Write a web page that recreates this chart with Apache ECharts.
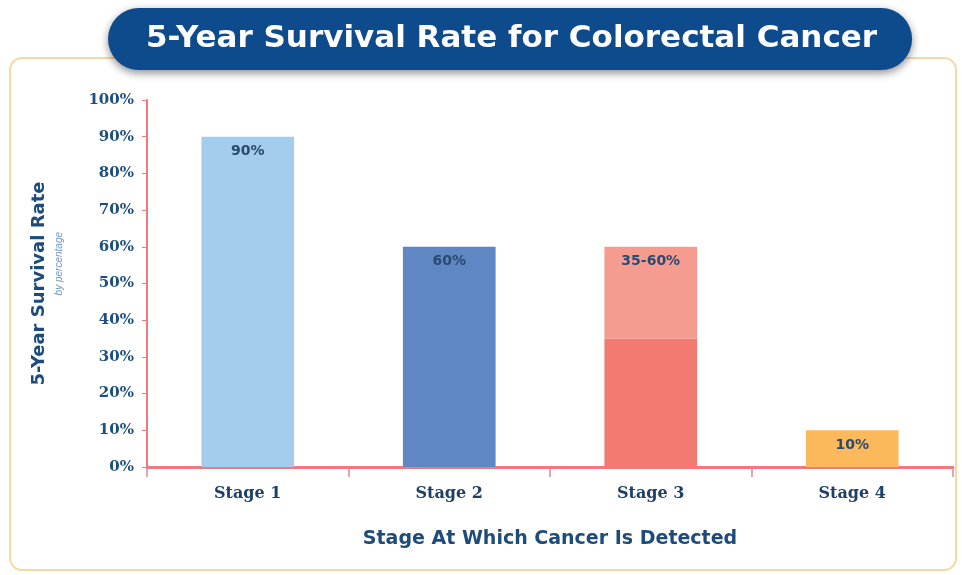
<!DOCTYPE html>
<html>
<head>
<meta charset="utf-8">
<script src="https://cdn.jsdelivr.net/npm/echarts@6/dist/echarts.min.js"></script>
<style>
  html, body { margin: 0; padding: 0; background: #fff; }
  #main { width: 962px; height: 575px; }
</style>
</head>
<body>
<div id="main"></div>
<script>
"use strict";
var stages = ['Stage 1', 'Stage 2', 'Stage 3', 'Stage 4'];
var lowRate = [90, 60, 35, 10];   // lower end of range
var highRate = [90, 60, 60, 10];  // upper end of range
var rateLabels = ['90%', '60%', '35-60%', '10%'];
var yTicks = [0, 10, 20, 30, 40, 50, 60, 70, 80, 90, 100];

var lowColors = ['#a3ccee', '#5e87c4', '#f27a70', '#fbb95c'];
var highColors = ['#a3ccee', '#5e87c4', '#f59b8f', '#fbb95c'];

var chartDom = document.getElementById('main');
var myChart = echarts.init(chartDom);

var labelStyle = {
    show: true,
    position: 'insideTop',
    distance: 8,
    fontFamily: 'DejaVu Sans',
    fontWeight: 'bold',
    fontSize: 14,
    color: '#2b4a72'
};

var baseData = lowRate.map(function (v, i) {
    var ranged = highRate[i] > v;
    return {
        value: v,
        itemStyle: { color: lowColors[i] },
        label: ranged ? { show: false } : Object.assign({}, labelStyle, { formatter: rateLabels[i] })
    };
});
var topData = highRate.map(function (v, i) {
    var ranged = v > lowRate[i];
    return {
        value: v - lowRate[i],
        itemStyle: { color: highColors[i] },
        label: ranged ? Object.assign({}, labelStyle, { formatter: rateLabels[i] }) : { show: false }
    };
});

var option = {
    backgroundColor: '#ffffff',
    animation: false,
    title: {
        text: '5-Year Survival Rate for Colorectal Cancer',
        left: 108,
        top: 8,
        backgroundColor: '#0e4b8c',
        borderRadius: 31,
        padding: [12, 35, 12, 38],
        shadowColor: 'rgba(0,0,0,0.45)',
        shadowBlur: 8,
        shadowOffsetY: 3,
        textStyle: {
            fontFamily: 'DejaVu Sans',
            fontWeight: 'bold',
            fontSize: 31,
            lineHeight: 38,
            color: '#ffffff'
        }
    },
    graphic: [
        {
            type: 'rect',
            z: -10,
            shape: { x: 10, y: 58, width: 946, height: 512, r: 12 },
            style: { fill: '#ffffff', stroke: '#f4d9a2', lineWidth: 2 }
        },
        {
            type: 'text',
            left: 54,
            top: 232,
            rotation: Math.PI / 2,
            style: {
                text: 'by percentage',
                fontFamily: 'Liberation Sans',
                fontStyle: 'italic',
                fontSize: 10,
                fill: '#7398c8'
            }
        }
    ],
    grid: { left: 147, right: 9, top: 100, bottom: 108 },
    xAxis: {
        type: 'category',
        data: stages,
        name: 'Stage At Which Cancer Is Detected',
        nameLocation: 'middle',
        nameGap: 63,
        nameTextStyle: {
            fontFamily: 'DejaVu Sans',
            fontWeight: 'bold',
            fontSize: 19,
            color: '#1d4b7c'
        },
        axisLine: { lineStyle: { color: '#ee7a80', width: 3 } },
        axisTick: { show: true, length: 10, lineStyle: { color: '#d98a8e', width: 1.5 } },
        axisLabel: {
            margin: 19,
            fontFamily: 'DejaVu Serif',
            fontWeight: 'bold',
            fontSize: 16,
            color: '#1f3f68'
        }
    },
    yAxis: {
        type: 'value',
        min: yTicks[0],
        max: yTicks[yTicks.length - 1],
        interval: 10,
        name: '5-Year Survival Rate',
        nameLocation: 'middle',
        nameGap: 99,
        nameRotate: 90,
        nameTextStyle: {
            fontFamily: 'DejaVu Sans',
            fontWeight: 'bold',
            fontSize: 18,
            color: '#1d4b7c'
        },
        axisLine: { show: true, lineStyle: { color: '#ee7a80', width: 2 } },
        axisTick: { show: true, length: 5, lineStyle: { color: '#ee7a80', width: 1 } },
        splitLine: { show: false },
        axisLabel: {
            formatter: '{value}%',
            margin: 13,
            fontFamily: 'DejaVu Serif',
            fontWeight: 'bold',
            fontSize: 15,
            color: '#1c4f80'
        }
    },
    series: [
        {
            name: 'low',
            type: 'bar',
            stack: 'rate',
            barWidth: '46%',
            data: baseData
        },
        {
            name: 'high',
            type: 'bar',
            stack: 'rate',
            barWidth: '46%',
            data: topData
        }
    ]
};

myChart.setOption(option);
</script>
</body>
</html>
